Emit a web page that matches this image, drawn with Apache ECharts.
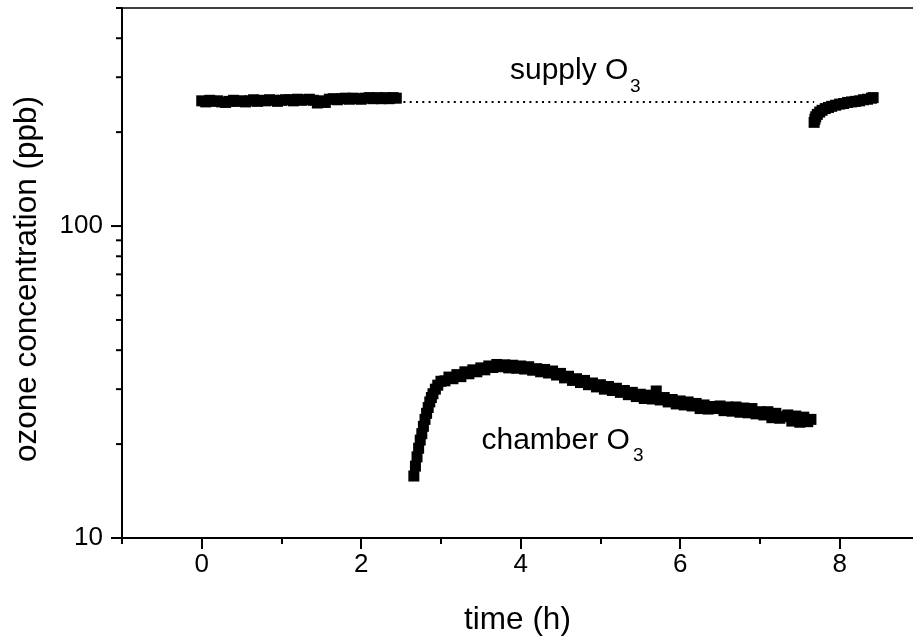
<!DOCTYPE html>
<html><head><meta charset="utf-8">
<script src="https://cdn.jsdelivr.net/npm/echarts@6/dist/echarts.min.js"></script>
<style>html,body{margin:0;padding:0;background:#fff}#c{width:913px;height:641px}</style>
</head><body><div id="c"></div>
<script>
// ---- data (time in h, ozone in ppb) ----
const supplyTimeA = [0,0.05,0.1,0.15,0.2,0.25,0.3,0.35,0.4,0.45,0.5,0.55,0.6,0.65,0.7,0.75,0.8,0.85,0.9,0.95,1.0,1.05,1.1,1.15,1.2,1.25,1.3,1.35,1.4,1.45,1.5,1.55,1.6,1.65,1.7,1.75,1.8,1.85,1.9,1.95,2.0,2.05,2.1,2.15,2.2,2.25,2.3,2.35,2.4,2.44];
const supplyValA = [252,250,253,251,252,250,249,251,253,251,252,250,252,254,251,253,252,254,253,251,253,254,254,252,255,253,254,255,253,248,252,249,255,256,254,256,257,255,257,256,255,257,258,256,258,256,258,256,258,257];

const chamberTime = [2.66,2.68,2.70,2.72,2.74,2.76,2.78,2.80,2.82,2.84,2.86,2.88,2.90,2.93,2.96,3.00,3.05,3.10,3.15,3.20,3.25,3.30,3.35,3.40,3.45,3.50,3.55,3.60,3.65,3.70,3.75,3.80,3.85,3.90,3.95,4.00,4.05,4.10,4.15,4.20,4.25,4.30,4.35,4.40,4.45,4.50,4.55,4.60,4.65,4.70,4.75,4.80,4.85,4.90,4.95,5.00,5.05,5.10,5.15,5.20,5.25,5.30,5.35,5.40,5.45,5.50,5.55,5.60,5.65,5.70,5.75,5.80,5.85,5.90,5.95,6.00,6.05,6.10,6.15,6.20,6.25,6.30,6.35,6.40,6.45,6.50,6.55,6.60,6.65,6.70,6.75,6.80,6.85,6.90,6.95,7.00,7.05,7.10,7.15,7.20,7.25,7.30,7.35,7.40,7.45,7.50,7.55,7.60,7.64];
const chamberVal = [15.8,17.0,18.2,19.4,20.6,21.6,22.8,24.0,25.1,26.2,27.3,28.2,29.0,30.0,30.9,31.8,31.9,32.8,32.4,33.4,32.9,34.1,33.6,34.6,34.1,35.1,34.6,35.6,35.2,36.0,35.4,35.9,35.1,35.8,35.0,35.6,34.8,35.4,34.5,34.9,34.1,34.7,33.8,34.3,33.3,33.7,32.6,33.0,32.0,32.4,31.5,32.0,31.0,31.4,30.5,31.0,30.0,30.6,29.7,30.2,29.3,29.7,28.8,29.3,28.4,28.9,28.0,28.7,27.9,29.6,27.7,28.2,27.3,27.8,26.9,27.5,26.7,27.3,26.5,27.0,26.0,26.7,25.9,26.4,26.0,26.5,25.6,26.3,25.5,26.3,25.3,26.1,25.2,26.0,25.0,25.4,24.8,25.4,24.3,25.1,24.2,24.5,24.8,23.7,24.6,23.5,24.4,23.6,24.0];

const supplyTimeB = [7.68,7.69,7.70,7.72,7.75,7.78,7.82,7.86,7.90,7.95,8.00,8.05,8.10,8.15,8.20,8.25,8.30,8.35,8.40,8.42];
const supplyValB = [215,220,224,228,232,235,238,240,242,244,246,247,249,250,251,252,254,255,257,258];

const gapTime = [2.45, 7.68];
const gapVal = [250, 250];

const xMajorTicks = [0, 2, 4, 6, 8];
const xMinorTicks = [-1, 1, 3, 5, 7];
const yMajorTicks = [10, 100];
const yMinorTicks = [20, 30, 40, 50, 60, 70, 80, 90, 200, 300, 400, 500];

// ---- chart ----
const FONT = "'Liberation Sans', Arial, sans-serif";
const X_MIN = -1, X_MAX = 8.92;
const zip = (a, b) => a.map((v, i) => [v, b[i]]);

function yTickSeries(vals, len) {
  return {
    type: 'custom', coordinateSystem: 'cartesian2d', clip: false, silent: true, z: 10,
    data: vals.map(v => [X_MIN, v]),
    renderItem: (params, api) => {
      const p = api.coord([api.value(0), api.value(1)]);
      return { type: 'line', shape: { x1: p[0] - len, y1: p[1], x2: p[0], y2: p[1] },
               style: { stroke: '#000', lineWidth: 2 } };
    }
  };
}

const markerStyle = { color: '#000', opacity: 1 };

const chart = echarts.init(document.getElementById('c'), null, { renderer: 'canvas' });
chart.setOption({
  animation: false,
  backgroundColor: '#fff',
  textStyle: { fontFamily: FONT },
  grid: { left: 122, top: 8, right: 0, bottom: 103, show: false },
  xAxis: [{
    type: 'value', min: X_MIN, max: X_MAX, position: 'bottom',
    axisLine: { show: true, onZero: false, lineStyle: { color: '#000', width: 2 } },
    axisTick: { show: true, inside: false, length: 11, customValues: xMajorTicks, lineStyle: { color: '#000', width: 2 } },
    axisLabel: { show: true, customValues: xMajorTicks, fontSize: 26, color: '#000', margin: 14, fontFamily: FONT },
    splitLine: { show: false },
    name: 'time (h)', nameLocation: 'middle', nameGap: 66,
    nameTextStyle: { fontSize: 31.5, color: '#000', fontFamily: FONT }
  }, {
    type: 'value', min: X_MIN, max: X_MAX, position: 'bottom',
    axisLine: { show: false },
    axisTick: { show: true, inside: false, length: 6, customValues: xMinorTicks, lineStyle: { color: '#000', width: 2 } },
    axisLabel: { show: false },
    splitLine: { show: false }
  }, {
    type: 'value', min: X_MIN, max: X_MAX, position: 'top',
    axisLine: { show: true, onZero: false, lineStyle: { color: '#000', width: 1.5 } },
    axisTick: { show: false }, axisLabel: { show: false }, splitLine: { show: false }
  }],
  yAxis: {
    type: 'log', logBase: 10, min: 10, max: 500,
    axisLine: { show: true, onZero: false, lineStyle: { color: '#000', width: 2 } },
    axisTick: { show: false },
    axisLabel: { show: true, fontSize: 26, color: '#000', margin: 19, fontFamily: FONT,
      formatter: v => (yMajorTicks.indexOf(Math.round(v)) >= 0 ? String(Math.round(v)) : '') },
    splitLine: { show: false }
  },
  series: [
    { type: 'line', data: zip(gapTime, gapVal), showSymbol: false, symbol: 'none', silent: true,
      lineStyle: { color: '#000', width: 2, type: [2, 4.3] }, z: 2 },
    { type: 'scatter', data: zip(supplyTimeA, supplyValA), symbol: 'rect', symbolSize: 11, itemStyle: markerStyle, z: 3 },
    { type: 'scatter', data: zip(chamberTime, chamberVal), symbol: 'rect', symbolSize: 11, itemStyle: markerStyle, z: 3 },
    { type: 'scatter', data: zip(supplyTimeB, supplyValB), symbol: 'rect', symbolSize: 11, itemStyle: markerStyle, z: 3 },
    yTickSeries(yMajorTicks, 11),
    yTickSeries(yMinorTicks, 6)
  ],
  graphic: [
    { type: 'text', x: 510, y: 70.5, style: { text: 'supply O', fontSize: 30, fontFamily: FONT, fill: '#000', align: 'left', verticalAlign: 'middle' } },
    { type: 'text', x: 630, y: 86.5, style: { text: '3', fontSize: 19, fontFamily: FONT, fill: '#000', align: 'left', verticalAlign: 'middle' } },
    { type: 'text', x: 481.5, y: 440.5, style: { text: 'chamber O', fontSize: 30, fontFamily: FONT, fill: '#000', align: 'left', verticalAlign: 'middle' } },
    { type: 'text', x: 633, y: 456, style: { text: '3', fontSize: 19, fontFamily: FONT, fill: '#000', align: 'left', verticalAlign: 'middle' } },
    { type: 'text', x: 27, y: 279, rotation: Math.PI / 2, style: { text: 'ozone concentration (ppb)', fontSize: 31.5, fontFamily: FONT, fill: '#000', align: 'center', verticalAlign: 'middle' } }
  ]
});
</script>
</body></html>
